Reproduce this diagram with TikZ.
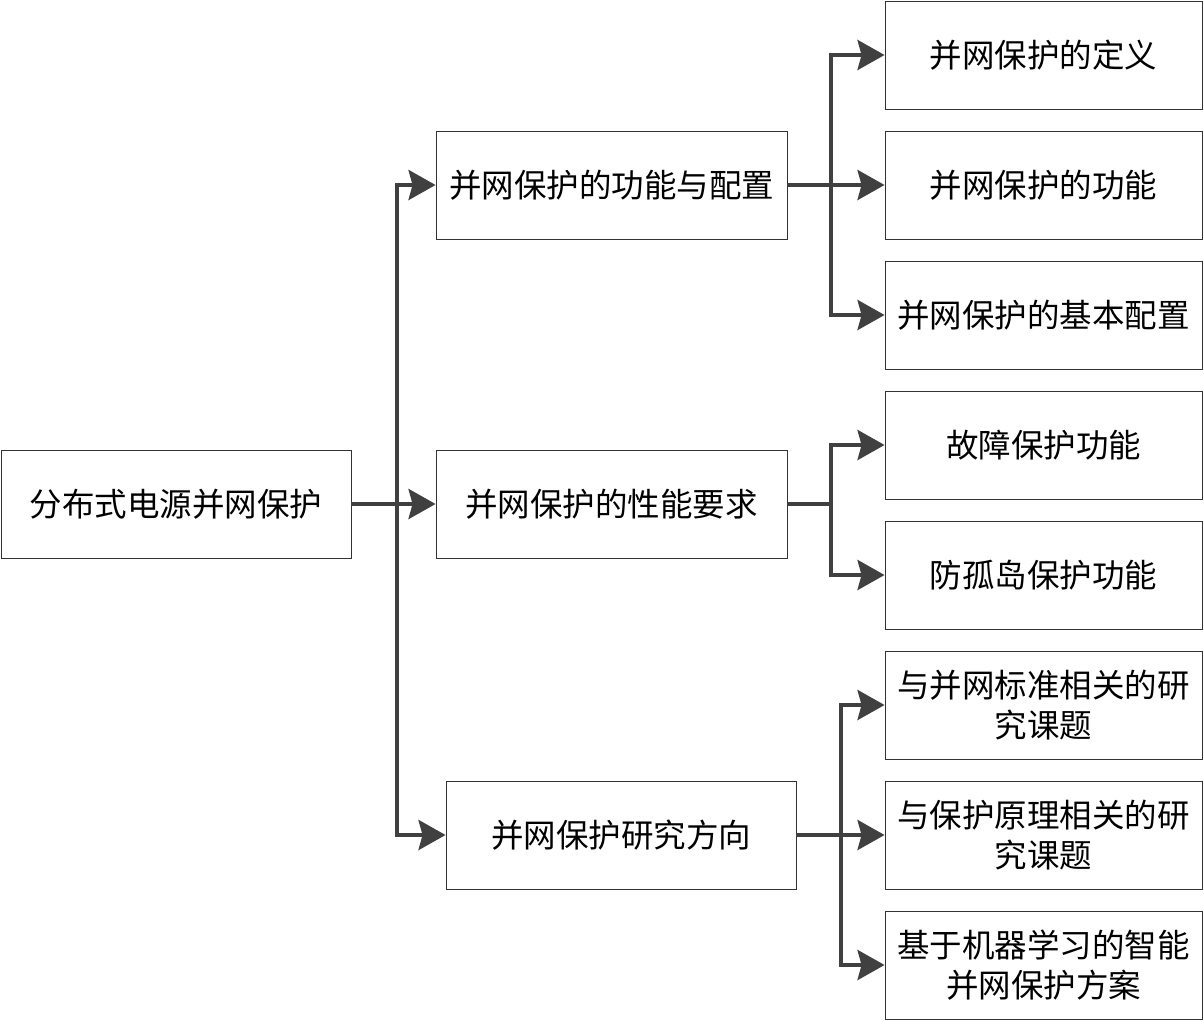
\documentclass[tikz,border=0pt]{standalone}
\usepackage{fontspec}
\setmainfont{Noto Sans CJK SC}
\usetikzlibrary{arrows.meta}
\definecolor{lc}{HTML}{404040}
\begin{document}
\begin{tikzpicture}[x=1pt,y=-1pt,
  box/.style={draw=black!80,line width=0.9pt,minimum height=108pt,inner sep=0pt,align=center,font=\fontsize{32.5}{40}\selectfont},
  conn/.style={draw=lc,line width=4pt,-{Stealth[length=27pt,width=30pt,inset=4pt]}},
  trunk/.style={draw=lc,line width=4pt}]
\useasboundingbox (0,0) rectangle (1204,1020);
\node[box,minimum width=350pt] (root) at (176,504) {分布式电源并网保护};
\node[box,minimum width=351pt] (m1) at (611.5,185) {并网保护的功能与配置};
\node[box,minimum width=351pt] (m2) at (611.5,504) {并网保护的性能要求};
\node[box,minimum width=350pt] (m3) at (621,835) {并网保护研究方向};
\foreach \n/\y/\t in {r1/55/并网保护的定义, r2/185/并网保护的功能, r3/315/并网保护的基本配置, r4/445/故障保护功能, r5/575/防孤岛保护功能, r6/705/{与并网标准相关的研\\究课题}, r7/835/{与保护原理相关的研\\究课题}, r8/965/{基于机器学习的智能\\并网保护方案}}
  \node[box,minimum width=317pt] (\n) at (1043.5,\y) {\t};
\coordinate (t0) at (397,504);
\coordinate (t1) at (831,185);
\coordinate (t2) at (831,504);
\coordinate (t3) at (841,835);
% root
\draw[trunk] (root.east) -- (t0);
\foreach \m in {m1,m2,m3} \draw[conn] (t0) |- (\m.west);
% m1
\draw[trunk] (m1.east) -- (t1);
\foreach \r in {r1,r2,r3} \draw[conn] (t1) |- (\r.west);
% m2
\draw[trunk] (m2.east) -- (t2);
\foreach \r in {r4,r5} \draw[conn] (t2) |- (\r.west);
% m3
\draw[trunk] (m3.east) -- (t3);
\foreach \r in {r6,r7,r8} \draw[conn] (t3) |- (\r.west);
\end{tikzpicture}
\end{document}
